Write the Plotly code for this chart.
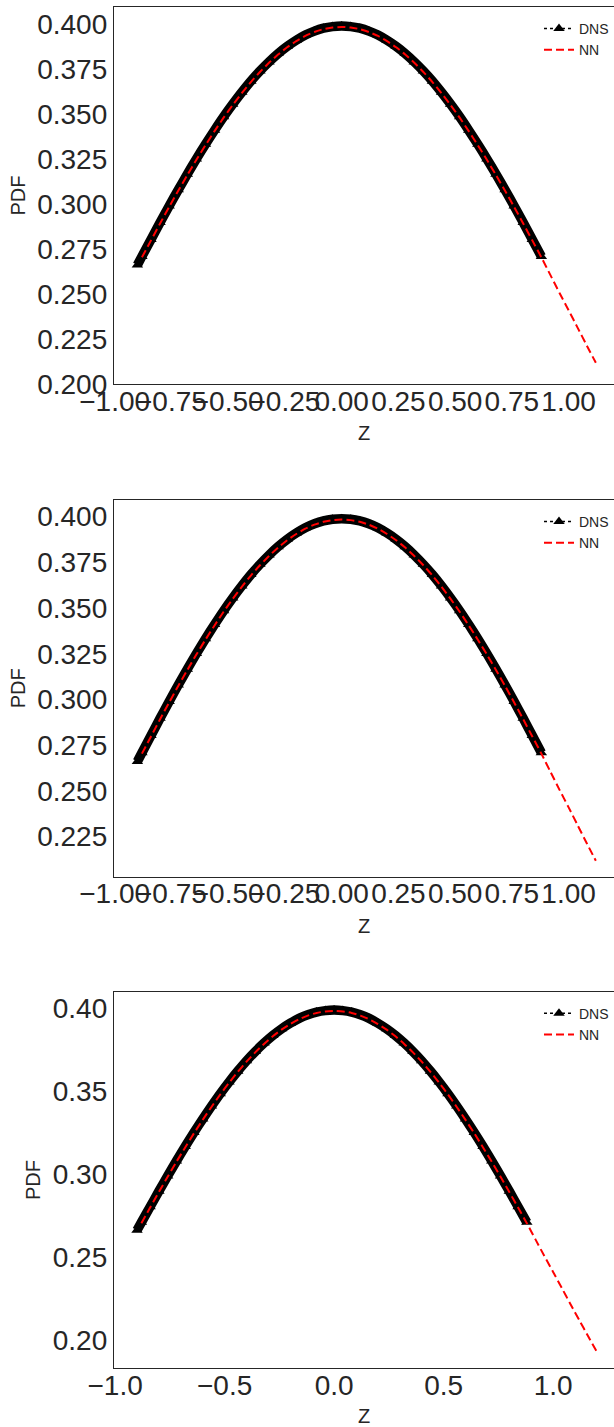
import plotly.graph_objects as go

# DNS samples (Z, PDF)
dns_z = [-0.90, -0.88, -0.84, -0.80, -0.76, -0.72, -0.68, -0.64, -0.60, -0.56, -0.52, -0.48, -0.44,
         -0.40, -0.36, -0.32, -0.28, -0.24, -0.20, -0.16, -0.12, -0.08, -0.04, 0.00,
         0.04, 0.08, 0.12, 0.16, 0.20, 0.24, 0.28, 0.32, 0.36, 0.40, 0.44, 0.48,
         0.52, 0.56, 0.60, 0.64, 0.68, 0.72, 0.76, 0.80, 0.84, 0.88]
dns_pdf = [0.2661, 0.2709, 0.2803, 0.2897, 0.2989, 0.3079, 0.3166, 0.3251, 0.3332, 0.3410, 0.3485, 0.3555, 0.3621,
           0.3683, 0.3739, 0.3790, 0.3836, 0.3876, 0.3910, 0.3939, 0.3961, 0.3977, 0.3986, 0.3989,
           0.3986, 0.3977, 0.3961, 0.3939, 0.3910, 0.3876, 0.3836, 0.3790, 0.3739, 0.3683, 0.3621, 0.3555,
           0.3485, 0.3410, 0.3332, 0.3251, 0.3166, 0.3079, 0.2989, 0.2897, 0.2803, 0.2709]

# NN prediction (Z, PDF) - panels 1 and 2
nn_z = [-0.88, -0.84, -0.80, -0.76, -0.72, -0.68, -0.64, -0.60, -0.56, -0.52, -0.48, -0.44,
        -0.40, -0.36, -0.32, -0.28, -0.24, -0.20, -0.16, -0.12, -0.08, -0.04, 0.00,
        0.04, 0.08, 0.12, 0.16, 0.20, 0.24, 0.28, 0.32, 0.36, 0.40, 0.44, 0.48,
        0.52, 0.56, 0.60, 0.64, 0.68, 0.72, 0.76, 0.80, 0.84, 0.88,
        0.92, 0.96, 1.00, 1.04, 1.08, 1.12]
nn_pdf = [0.2704, 0.2798, 0.2892, 0.2984, 0.3074, 0.3161, 0.3246, 0.3327, 0.3405, 0.3480, 0.3550, 0.3616,
          0.3678, 0.3734, 0.3785, 0.3831, 0.3871, 0.3905, 0.3934, 0.3956, 0.3972, 0.3981, 0.3984,
          0.3981, 0.3972, 0.3956, 0.3934, 0.3905, 0.3871, 0.3831, 0.3785, 0.3734, 0.3678, 0.3616, 0.3550,
          0.3480, 0.3405, 0.3327, 0.3246, 0.3161, 0.3074, 0.2984, 0.2892, 0.2798, 0.2704,
          0.2605, 0.2506, 0.2410, 0.2312, 0.2214, 0.2118]

# NN prediction - panel 3 (extends further)
nn3_z = nn_z + [1.16, 1.20]
nn3_pdf = nn_pdf + [0.2022, 0.1928]

# tick values
y_ticks_a = [0.200, 0.225, 0.250, 0.275, 0.300, 0.325, 0.350, 0.375, 0.400]
y_ticks_b = [0.20, 0.25, 0.30, 0.35, 0.40]
x_ticks_a = [-1.00, -0.75, -0.50, -0.25, 0.00, 0.25, 0.50, 0.75, 1.00]
x_ticks_b = [-1.0, -0.5, 0.0, 0.5, 1.0]

W, H = 614, 1427
FONT = "Liberation Sans"
TXT = "#262626"
TICK_SIZE = 28

panels = [
    dict(nnx=nn_z, nny=nn_pdf, top=7, bot=384, xr=[-1.003, 1.200], yr=[0.2000, 0.4095],
         xt=x_ticks_a, xf=".2f", yt=y_ticks_a, yf=".3f"),
    dict(nnx=nn_z, nny=nn_pdf, top=500, bot=876.7, xr=[-1.003, 1.200], yr=[0.2031, 0.4091],
         xt=x_ticks_a, xf=".2f", yt=y_ticks_a, yf=".3f"),
    dict(nnx=nn3_z, nny=nn3_pdf, top=991.7, bot=1368.3, xr=[-1.005, 1.278], yr=[0.1829, 0.4100],
         xt=x_ticks_b, xf=".1f", yt=y_ticks_b, yf=".2f"),
]

fig = go.Figure()
layout = dict(width=W, height=H, margin=dict(l=0, r=0, t=0, b=0, autoexpand=False),
              template="none",
              paper_bgcolor="white", plot_bgcolor="white",
              font=dict(family=FONT, color=TXT), showlegend=True)

for i, p in enumerate(panels):
    n = i + 1
    sfx = "" if n == 1 else str(n)
    xa, ya = "x" + sfx, "y" + sfx
    lg = "legend" + sfx
    # thick band formed by the dense DNS triangle markers
    fig.add_trace(go.Scatter(x=dns_z, y=dns_pdf, xaxis=xa, yaxis=ya, mode="lines",
                             line=dict(color="black", width=9.5, shape="spline", smoothing=0.6),
                             showlegend=False, hoverinfo="skip"))
    fig.add_trace(go.Scatter(x=dns_z, y=dns_pdf, xaxis=xa, yaxis=ya, mode="lines+markers",
                             name="DNS", legend=lg,
                             line=dict(color="black", width=1.5, dash="dot"),
                             marker=dict(symbol="triangle-up", size=10, color="black")))
    fig.add_trace(go.Scatter(x=p["nnx"], y=p["nny"], xaxis=xa, yaxis=ya, mode="lines",
                             name="NN", legend=lg,
                             line=dict(color="red", width=2, dash="8px,4px",
                                       shape="spline", smoothing=0.6)))
    yd = [1 - p["bot"] / H, 1 - p["top"] / H]
    layout["xaxis" + sfx] = dict(domain=[114 / W, 1], range=p["xr"], anchor=ya, automargin=False,
                                 tickvals=p["xt"], tickformat=p["xf"], tickangle=0,
                                 ticklabelstandoff=-8,
                                 showgrid=False, zeroline=False, showline=True, mirror=True,
                                 linecolor=TXT, linewidth=1.3, ticks="",
                                 tickfont=dict(size=TICK_SIZE, color=TXT),
                                 title=dict(text="Z", font=dict(size=20, color=TXT), standoff=10))
    layout["yaxis" + sfx] = dict(domain=yd, range=p["yr"], anchor=xa, automargin=False,
                                 tickvals=p["yt"], tickformat=p["yf"],
                                 showgrid=False, zeroline=False, showline=True, mirror=False,
                                 linecolor=TXT, linewidth=1.3, ticks="",
                                 tickfont=dict(size=TICK_SIZE, color=TXT),
                                 title=dict(text="PDF", font=dict(size=20, color=TXT), standoff=6))
    layout[lg] = dict(x=1, xanchor="right", y=1 - (p["top"] + 6) / H, yanchor="top",
                      bgcolor="rgba(0,0,0,0)", font=dict(size=14, color=TXT),
                      itemwidth=30, tracegroupgap=0)

fig.update_layout(**layout)
fig.write_html("out.html")
